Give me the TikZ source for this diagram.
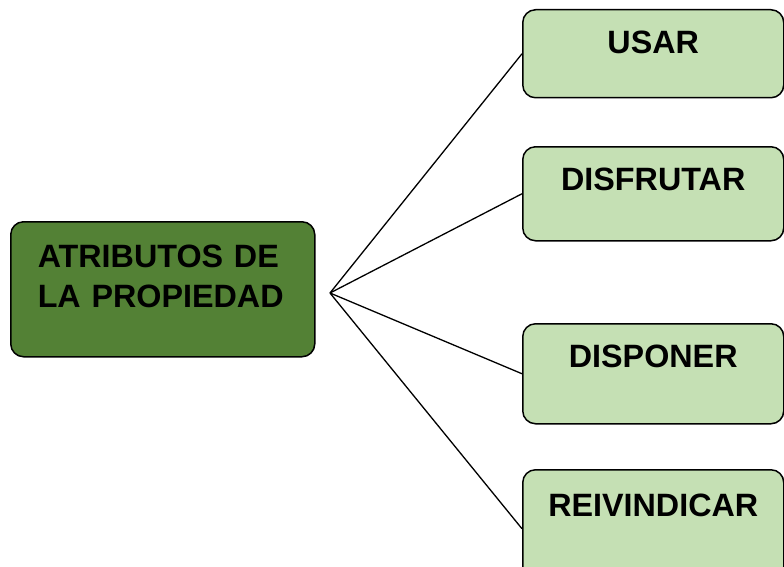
\documentclass[tikz,border=0pt]{standalone}
\usepackage{fontspec}
\setmainfont{Liberation Sans}
\usetikzlibrary{positioning}
\definecolor{darkleaf}{HTML}{538135}
\definecolor{paleleaf}{HTML}{C5E0B4}
\tikzset {
  box/.style = {
    draw = black,
    line width = 1.5pt,
    rounded corners = 4.5mm,
    font = \fontsize{32.3}{40}\selectfont\bfseries
  },
  % main concept on the left
  root/.style = {
    box,
    fill = darkleaf,
    anchor = north west,
    align = left,
    text width = 250pt,
    inner xsep = 27pt,
    inner ysep = 10pt,
    text height = 36pt,
    text depth = 79pt
  },
  % one attribute on the right, #1 = space below the text
  leaf/.style = {
    box,
    fill = paleleaf,
    anchor = north west,
    minimum width = 261pt,
    inner ysep = 14pt,
    text height = 30pt,
    text depth = #1
  },
  link/.style = {
    draw = black,
    line width = 1.3pt
  }
}

\begin{document}
\begin{tikzpicture}
    \useasboundingbox (0,0) rectangle (784pt,-567pt);
    \clip (0,0) rectangle (784pt,-567pt);

    \node[root] (root) at (10pt,-221pt) {ATRIBUTOS DE\\LA PROPIEDAD};
    \coordinate (hub) at (330pt,-293pt);

    \node[leaf=30pt] (usar) at (522pt,-9pt) {USAR};
    \node[leaf=36pt] (disfrutar) at (522pt,-146pt) {DISFRUTAR};
    \node[leaf=42pt] (disponer) at (522pt,-323pt) {DISPONER};
    \node[leaf=57pt, text height=33pt] (reivindicar) at (522pt,-469pt) {REIVINDICAR};

    \draw[link] (hub) -- (usar.west);
    \draw[link] (hub) -- (disfrutar.west);
    \draw[link] (hub) -- (disponer.west);
    \draw[link] (hub) -- (reivindicar.west);
\end{tikzpicture}
\end{document}
